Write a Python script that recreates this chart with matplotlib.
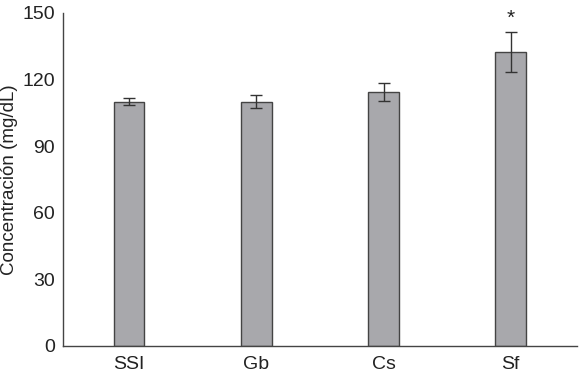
import numpy as np
import matplotlib.pyplot as plt
from matplotlib import font_manager

### data
groups = ['SSI', 'Gb', 'Cs', 'Sf']
means = [110.0, 110.0, 114.5, 132.5]
errs = [1.6, 3.0, 4.0, 9.0]
marks = ['', '', '', '*']

names = {f.name for f in font_manager.fontManager.ttflist}
family = 'Liberation Sans Narrow' if 'Liberation Sans Narrow' in names else 'Liberation Sans'
plt.rcParams['font.family'] = [family, 'DejaVu Sans']

fig = plt.figure(figsize=(5.8, 3.78), dpi=100)
ax = fig.add_axes([0.1086, 0.0847, 0.886, 0.881])

x = np.arange(len(groups))
ax.bar(x, means, width=0.24, color='#a8a8ac', edgecolor='#444444', linewidth=1.0,
       yerr=errs, capsize=4, error_kw=dict(ecolor='#333333', elinewidth=1.0, capthick=1.0))

for xi, m, e, s in zip(x, means, errs, marks):
    if s:
        ax.annotate(s, (xi, m + e), xytext=(0, 3), textcoords='offset points',
                    ha='center', va='bottom', fontsize=15, color='#222222')

ax.set_xlim(-0.52, 3.52)
ax.set_ylim(0, 150)
ax.set_yticks([0, 30, 60, 90, 120, 150])
ax.set_xticks(x)
ax.set_xticklabels(groups)
ax.set_ylabel('Concentración (mg/dL)', fontsize=13.5, color='#222222', labelpad=3)
ax.tick_params(length=0, labelsize=14, labelcolor='#222222')
ax.tick_params(axis='y', pad=6)
ax.tick_params(axis='x', pad=7)
for sp in ['top', 'right']:
    ax.spines[sp].set_visible(False)
for sp in ['left', 'bottom']:
    ax.spines[sp].set_color('#444444')
    ax.spines[sp].set_linewidth(1.0)

fig.savefig('out.png', dpi=100)
